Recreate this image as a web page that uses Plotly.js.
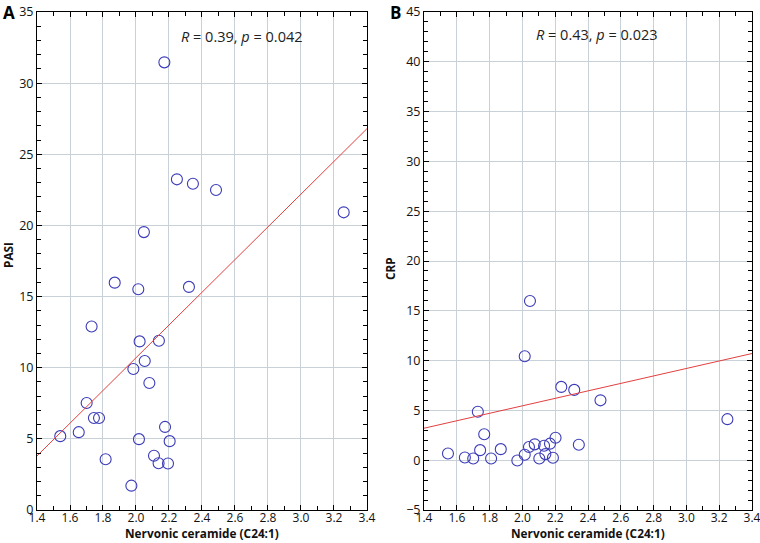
<!DOCTYPE html>
<html>
<head>
<meta charset="utf-8">
<script src="https://cdn.plot.ly/plotly-3.0.1.min.js"></script>
<style>html,body{margin:0;padding:0;background:#fff;}</style>
</head>
<body>
<div id="chart" style="width:760px;height:543px;"></div>
<script>
// Panel A: Nervonic ceramide vs PASI
const ceramideA = [1.541, 1.653, 1.701, 1.731, 1.745, 1.776, 1.816, 1.871, 1.972, 1.984, 2.014, 2.018, 2.022, 2.053,
                   2.081, 2.109, 2.137, 2.139, 2.176, 2.194, 2.204, 2.321, 2.172, 2.248, 2.345, 2.485, 3.259, 2.048];
const pasi      = [5.19, 5.47, 7.52, 12.9, 6.47, 6.47, 3.57, 15.98, 1.71, 9.91, 15.51, 4.98, 11.85, 10.47,
                   8.93, 3.81, 3.29, 11.89, 5.84, 3.27, 4.84, 15.68, 31.46, 23.24, 22.93, 22.49, 20.92, 19.53];
const fitXA = [1.4, 3.4];
const fitYA = [3.8, 26.8];

// Panel B: Nervonic ceramide vs CRP
const ceramideB = [1.546, 1.649, 1.700, 1.728, 1.742, 1.767, 1.809, 1.868, 1.969, 2.014, 2.014, 2.040, 2.046, 2.075,
                   2.103, 2.132, 2.140, 2.168, 2.186, 2.202, 2.237, 2.316, 2.344, 2.476, 3.250];
const crp       = [0.68, 0.27, 0.17, 4.86, 1.01, 2.60, 0.17, 1.11, -0.03, 10.44, 0.54, 1.32, 15.98, 1.59,
                   0.17, 1.45, 0.61, 1.66, 0.24, 2.26, 7.36, 7.06, 1.55, 6.01, 4.12];
const fitXB = [1.4, 3.4];
const fitYB = [3.21, 10.71];

const statsA = "<i>R</i> = 0.39, <i>p</i> = 0.042";
const statsB = "<i>R</i> = 0.43, <i>p</i> = 0.023";
const xTitle = "Nervonic ceramide (C24:1)";
const yTitleA = "PASI";
const yTitleB = "CRP";

const FONT = "Open Sans, Noto Sans, sans-serif";
const markerStyle = {symbol: "circle-open", size: 11, color: "#3b3bb8", line: {width: 1.1, color: "#3b3bb8"}};
const lineStyle = {color: "#e2403f", width: 1};

const traces = [
  {x: ceramideA, y: pasi, type: "scatter", mode: "markers", marker: markerStyle, xaxis: "x", yaxis: "y", showlegend: false},
  {x: fitXA, y: fitYA, type: "scatter", mode: "lines", line: lineStyle, xaxis: "x", yaxis: "y", showlegend: false},
  {x: ceramideB, y: crp, type: "scatter", mode: "markers", marker: markerStyle, xaxis: "x2", yaxis: "y2", showlegend: false},
  {x: fitXB, y: fitYB, type: "scatter", mode: "lines", line: lineStyle, xaxis: "x2", yaxis: "y2", showlegend: false}
];

function xAxis(domain, anchor) {
  return {
    domain: domain, anchor: anchor, range: [1.4, 3.4], dtick: 0.2, tick0: 1.4, tickformat: ".1f",
    ticks: "inside", ticklen: 5, tickcolor: "#000", tickwidth: 1,
    minor: {ticks: "inside", dtick: 0.1, ticklen: 4, tickcolor: "#000", showgrid: false},
    showline: true, linecolor: "#000", linewidth: 1, mirror: "allticks",
    showgrid: true, gridcolor: "#c9d1d8", gridwidth: 1, zeroline: false,
    tickfont: {family: FONT, size: 12, color: "#111"},
    ticklabelstandoff: -3, ticklabeloverflow: "allow",
    automargin: false, fixedrange: true
  };
}
function yAxis(range, anchor) {
  return {
    domain: [0, 1], anchor: anchor, range: range, dtick: 5,
    ticks: "inside", ticklen: 5, tickcolor: "#000", tickwidth: 1,
    minor: {ticks: "inside", dtick: 1, ticklen: 4, tickcolor: "#000", showgrid: false},
    showline: true, linecolor: "#000", linewidth: 1, mirror: "allticks",
    showgrid: true, gridcolor: "#c9d1d8", gridwidth: 1, zeroline: false,
    tickfont: {family: FONT, size: 12.5, color: "#111"},
    ticklabelstandoff: 0,
    automargin: false, fixedrange: true
  };
}

const titleFont = {family: FONT, size: 11.8, color: "#111"};

const layout = {
  width: 760, height: 543,
  margin: {l: 37, r: 8, t: 12, b: 33},
  paper_bgcolor: "#fff", plot_bgcolor: "#fff",
  font: {family: FONT, size: 12, color: "#111"},
  xaxis: xAxis([0, 0.4615], "y"),
  yaxis: yAxis([0, 35], "x"),
  xaxis2: xAxis([0.5413, 1], "y2"),
  yaxis2: yAxis([-5, 45], "x2"),
  annotations: [
    {text: statsA, xref: "x domain", yref: "paper", x: 0.621, y: 1, yshift: -13, showarrow: false,
     font: {family: FONT, size: 14.5, color: "#222"}},
    {text: statsB, xref: "x2 domain", yref: "paper", x: 0.526, y: 1, yshift: -11, showarrow: false,
     font: {family: FONT, size: 14.5, color: "#222"}},
    {text: "<b>" + xTitle + "</b>", xref: "x domain", yref: "paper", x: 0.5, y: 0, yanchor: "bottom",
     yshift: -33, showarrow: false, font: titleFont},
    {text: "<b>" + xTitle + "</b>", xref: "x2 domain", yref: "paper", x: 0.5, y: 0, yanchor: "bottom",
     yshift: -33, showarrow: false, font: titleFont},
    {text: "<b>" + yTitleA + "</b>", xref: "paper", yref: "paper", x: 0, y: 0.5, xanchor: "center", yanchor: "middle",
     xshift: -29, yshift: 6, textangle: -90, showarrow: false, font: titleFont},
    {text: "<b>" + yTitleB + "</b>", xref: "x2 domain", yref: "paper", x: 0, y: 0.5, xanchor: "center", yanchor: "middle",
     xshift: -34, yshift: -8, textangle: -90, showarrow: false, font: titleFont},
    {text: "<b>A</b>", xref: "paper", yref: "paper", x: 0, y: 1.0, xanchor: "left", yanchor: "middle",
     xshift: -36, yshift: 0, showarrow: false, font: {family: FONT, size: 17, color: "#000"}},
    {text: "<b>B</b>", xref: "x2 domain", yref: "paper", x: 0, y: 1.0, xanchor: "right", yanchor: "middle",
     xshift: -21, yshift: 0, showarrow: false, font: {family: FONT, size: 17, color: "#000"}}
  ]
};

Plotly.newPlot("chart", traces, layout, {staticPlot: true, displayModeBar: false});
</script>
</body>
</html>
